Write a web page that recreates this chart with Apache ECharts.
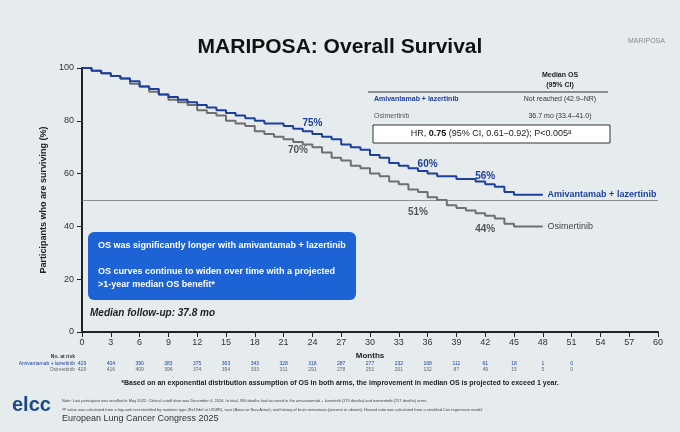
<!DOCTYPE html>
<html><head><meta charset="utf-8">
<script src="https://cdn.jsdelivr.net/npm/echarts@6/dist/echarts.min.js"></script>
<style>html,body{margin:0;background:#e6ebee}#c{width:680px;height:432px}</style>
</head><body><div id="c"></div>
<script>
const months = [0,1,2,3,4,5,6,7,8,9,10,11,12,13,14,15,16,17,18,19,20,21,22,23,24,25,26,27,28,29,30,31,32,33,34,35,36,37,38,39,40,41,42,43,44,45,46,47,48];
const amiva = [100,99,98,97,96,95,93,92,90,89,88,87,86,85,84,83,82,81,80,79,79,78,77,76,75,74,73,71,70,69,67,66,64,63,62,61,60,59,59,58,58,57,56,55,53,52,52,52,52];
const osim  = [100,99,98,97,96,94,93,91,90,88,87,86,84,83,82,80,79,78,76,75,74,73,72,71,70,68,66,65,63,62,60,59,57,56,54,53,51,50,48,47,46,45,44,43,41,40,40,40,40];
const riskMonths = [0,3,6,9,12,15,18,21,24,27,30,33,36,39,42,45,48,51];
const riskAmiva = [429,404,390,383,375,363,343,328,318,287,277,232,168,111,61,18,1,0];
const riskOsim  = [429,416,409,396,374,354,333,311,291,278,251,201,132,87,49,15,5,0];
const curveLabels = [
  {x:24, y:79, t:'75%', c:'#1f3f9f'}, {x:22.5, y:69, t:'70%', c:'#555'},
  {x:36, y:63.5, t:'60%', c:'#1f3f9f'}, {x:42, y:59, t:'56%', c:'#1f3f9f'},
  {x:35, y:45.5, t:'51%', c:'#555'}, {x:42, y:39, t:'44%', c:'#555'}
];
const BLUE = '#1f3f9f', GREY = '#6f6f6f';
const chart = echarts.init(document.getElementById('c'));
chart.setOption({
  backgroundColor: '#e6ebee',
  animation: false,
  grid: {left: 82, right: 22, top: 68, bottom: 100},
  xAxis: {type: 'value', min: 0, max: 60, interval: 3,
    axisLine: {lineStyle: {color: '#222', width: 2}}, axisTick: {lineStyle: {color: '#222'}},
    axisLabel: {color: '#333', fontSize: 9, margin: 6}, splitLine: {show: false},
    name: 'Months', nameLocation: 'middle', nameGap: 17, nameTextStyle: {fontSize: 8, fontWeight: 'bold', color: '#222'}},
  yAxis: {type: 'value', min: 0, max: 100, interval: 20,
    axisLine: {show: true, lineStyle: {color: '#222', width: 2}}, axisTick: {show: true, lineStyle: {color: '#222'}},
    axisLabel: {color: '#333', fontSize: 9}, splitLine: {show: false},
    name: 'Participants who are surviving (%)', nameLocation: 'middle', nameGap: 26, nameRotate: 90,
    nameTextStyle: {fontSize: 9, fontWeight: 'bold', color: '#222'}},
  series: [
    {type: 'line', step: 'end', symbol: 'none', data: months.map((m, i) => [m, osim[i]]),
      lineStyle: {color: GREY, width: 2}},
    {type: 'line', step: 'end', symbol: 'none', data: months.map((m, i) => [m, amiva[i]]),
      lineStyle: {color: BLUE, width: 2},
      markLine: {silent: true, symbol: 'none', label: {show: false},
        lineStyle: {color: '#777', type: 'solid', width: 0.8}, data: [{yAxis: 50}]}}
  ]
});
const px = (x, y) => chart.convertToPixel({gridIndex: 0}, [x, y]);
const g = [];
curveLabels.forEach(l => { const p = px(l.x, l.y);
  g.push({type: 'text', x: p[0], y: p[1], style: {text: l.t, fill: l.c, fontSize: 10, fontWeight: 'bold', align: 'center', verticalAlign: 'middle'}}); });
let p = px(48.5, 52);
g.push({type: 'text', x: p[0], y: p[1], style: {text: 'Amivantamab + lazertinib', fill: BLUE, fontSize: 9, fontWeight: 'bold', verticalAlign: 'middle'}});
p = px(48.5, 40);
g.push({type: 'text', x: p[0], y: p[1], style: {text: 'Osimertinib', fill: '#444', fontSize: 9, verticalAlign: 'middle'}});
riskMonths.forEach((m, i) => { const q = px(m, 0);
  g.push({type: 'text', x: q[0], y: 361, style: {text: String(riskAmiva[i]), fill: BLUE, fontSize: 5, align: 'center'}});
  g.push({type: 'text', x: q[0], y: 367, style: {text: String(riskOsim[i]), fill: '#666', fontSize: 5, align: 'center'}}); });
g.push(
  {type: 'text', x: 75, y: 354, style: {text: 'No. at risk', fill: '#333', fontSize: 5, fontWeight: 'bold', align: 'right'}},
  {type: 'text', x: 75, y: 361, style: {text: 'Amivantamab + lazertinib', fill: BLUE, fontSize: 5, align: 'right'}},
  {type: 'text', x: 75, y: 367, style: {text: 'Osimertinib', fill: '#666', fontSize: 5, align: 'right'}},
  {type: 'text', x: 340, y: 47, style: {text: 'MARIPOSA: Overall Survival', fill: '#111', fontSize: 21, fontWeight: 'bold', align: 'center', verticalAlign: 'middle', fontFamily: 'Liberation Sans'}},
  {type: 'text', x: 560, y: 70, style: {text: 'Median OS\n(95% CI)', fill: '#222', fontSize: 7, fontWeight: 'bold', align: 'center', lineHeight: 10}},
  {type: 'line', shape: {x1: 368, y1: 92, x2: 608, y2: 92}, style: {stroke: '#333', lineWidth: 1}},
  {type: 'text', x: 374, y: 96, style: {text: 'Amivantamab + lazertinib', fill: BLUE, fontSize: 7, fontWeight: 'bold'}},
  {type: 'text', x: 560, y: 96, style: {text: 'Not reached (42.9–NR)', fill: '#333', fontSize: 7, align: 'center'}},
  {type: 'text', x: 374, y: 113, style: {text: 'Osimertinib', fill: '#555', fontSize: 7}},
  {type: 'text', x: 560, y: 113, style: {text: '36.7 mo (33.4–41.0)', fill: '#333', fontSize: 7, align: 'center'}},
  {type: 'rect', shape: {x: 373, y: 125, width: 237, height: 18}, style: {fill: '#fff', stroke: '#333', lineWidth: 1}},
  {type: 'text', x: 491, y: 134, style: {rich: {a: {fontSize: 9, fill: '#222'}, b: {fontSize: 9, fill: '#111', fontWeight: 'bold'}},
    text: '{a|HR, }{b|0.75}{a| (95% CI, 0.61–0.92); P<0.005ᵃ}', align: 'center', verticalAlign: 'middle'}},
  {type: 'rect', shape: {x: 88, y: 232, width: 268, height: 68, r: 6}, style: {fill: '#1d63d6'}},
  {type: 'text', x: 98, y: 241, style: {text: 'OS was significantly longer with amivantamab + lazertinib', fill: '#fff', fontSize: 9, fontWeight: 'bold'}},
  {type: 'text', x: 98, y: 265, style: {text: 'OS curves continue to widen over time with a projected\n>1-year median OS benefit*', fill: '#fff', fontSize: 9, fontWeight: 'bold', lineHeight: 13}},
  {type: 'text', x: 90, y: 308, style: {text: 'Median follow-up: 37.8 mo', fill: '#222', fontSize: 10, fontWeight: 'bold', fontStyle: 'italic'}},
  {type: 'text', x: 340, y: 380, style: {text: '*Based on an exponential distribution assumption of OS in both arms, the improvement in median OS is projected to exceed 1 year.', fill: '#222', fontSize: 7, fontWeight: 'bold', align: 'center'}},
  {type: 'text', x: 62, y: 396, style: {text: 'Note: Last participant was enrolled in May 2022. Clinical cutoff date was December 4, 2024. In total, 390 deaths had occurred in the amivantamab + lazertinib (173 deaths) and osimertinib (217 deaths) arms.\nᵃP value was calculated from a log-rank test stratified by mutation type (Ex19del or L858R), race (Asian or Non-Asian), and history of brain metastasis (present or absent). Hazard ratio was calculated from a stratified Cox regression model.', fill: '#444', fontSize: 4, lineHeight: 9}},
  {type: 'text', x: 12, y: 395, style: {text: 'elcc', fill: '#1a4a8a', fontSize: 20, fontWeight: 'bold'}},
  {type: 'text', x: 62, y: 414, style: {text: 'European Lung Cancer Congress 2025', fill: '#333', fontSize: 9}},
  {type: 'text', x: 628, y: 38, style: {text: 'MARIPOSA', fill: '#888', fontSize: 7}}
);
chart.setOption({graphic: g});
</script></body></html>
